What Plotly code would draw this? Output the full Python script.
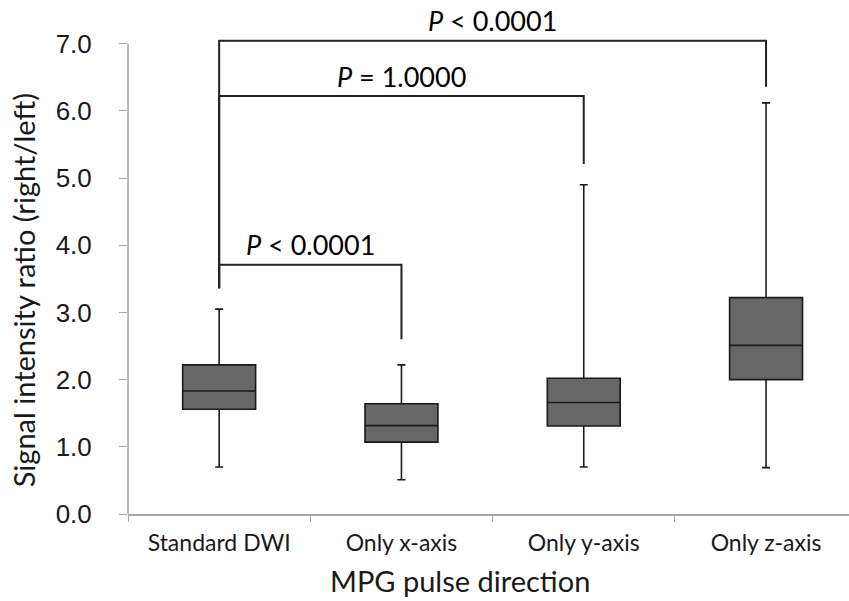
import plotly.graph_objects as go

categories = ["Standard DWI", "Only x-axis", "Only y-axis", "Only z-axis"]
q1 = [1.56, 1.07, 1.31, 2.00]
median = [1.83, 1.315, 1.66, 2.51]
q3 = [2.22, 1.64, 2.02, 3.22]
lower_whisker = [0.70, 0.51, 0.70, 0.69]
upper_whisker = [3.05, 2.22, 4.90, 6.12]
y_ticks = [0, 1, 2, 3, 4, 5, 6, 7]
y_tick_labels = ["0.0", "1.0", "2.0", "3.0", "4.0", "5.0", "6.0", "7.0"]

# comparison brackets: (from index, to index, left end y, bar y, right end y, label)
brackets = [
    (0, 1, 3.36, 3.71, 2.60, "<i>P</i> < 0.0001"),
    (0, 2, 3.36, 6.22, 5.21, "<i>P</i> = 1.0000"),
    (0, 3, 3.36, 7.045, 6.36, "<i>P</i> < 0.0001"),
]

fig = go.Figure()
fig.add_trace(go.Box(
    x=categories, q1=q1, median=median, q3=q3,
    lowerfence=lower_whisker, upperfence=upper_whisker,
    fillcolor="#676767", line=dict(color="#1a1a1a", width=1.6),
    width=0.4, whiskerwidth=0.11, boxpoints=False, showlegend=False,
    hoverinfo="skip",
))

annotations = []
for a, b, ya, ybar, yb, label in brackets:
    ca, cb = categories[a], categories[b]
    fig.add_trace(go.Scatter(
        x=[ca, ca, cb, cb], y=[ya, ybar, ybar, yb], mode="lines",
        line=dict(color="#222222", width=2), showlegend=False, hoverinfo="skip",
    ))
    annotations.append(dict(
        x=(a + b) / 2, y=ybar, xref="x", yref="y", text=label,
        showarrow=False, yanchor="middle", yshift=20,
        font=dict(family="Lato", size=27, color="#000000"),
    ))

annotations.append(dict(
    x=0.46, y=0, xref="paper", yref="paper", yshift=-66, yanchor="middle",
    text="MPG pulse direction", showarrow=False,
    font=dict(family="Lato", size=29, color="#1a1a1a"),
))
annotations.append(dict(
    x=-0.145, y=0.47, xref="paper", yref="paper", textangle=-90,
    text="Signal intensity ratio (right/left)", showarrow=False,
    xanchor="center", yanchor="middle",
    font=dict(family="Lato", size=29, color="#1a1a1a"),
))

fig.update_layout(
    width=849, height=601,
    margin=dict(l=128, r=0, t=37, b=87),
    paper_bgcolor="white", plot_bgcolor="white",
    annotations=annotations,
    shapes=[dict(type="line", xref="paper", yref="y", x0=0, x1=0, y0=0, y1=7,
                 line=dict(color="#a6a6a6", width=1.5))],
    xaxis=dict(
        type="category", categoryorder="array", categoryarray=categories,
        range=[-0.5, 3.455], showline=True, linecolor="#a6a6a6", linewidth=1.5,
        ticks="outside", tickson="boundaries", ticklen=6, tickcolor="#a6a6a6",
        tickfont=dict(family="Lato", size=23, color="#1a1a1a"),
        ticklabelstandoff=8, showgrid=False, zeroline=False,
    ),
    yaxis=dict(
        range=[0, 7.1], tickvals=y_ticks, ticktext=y_tick_labels,
        showline=False, ticks="outside", ticklen=8, tickcolor="#a6a6a6",
        tickfont=dict(family="Liberation Sans", size=26, color="#1a1a1a"),
        ticklabelstandoff=22, showgrid=False, zeroline=False,
    ),
)

fig.write_html("out.html", config={"displayModeBar": False},
               post_script="document.body.style.margin='0';")
